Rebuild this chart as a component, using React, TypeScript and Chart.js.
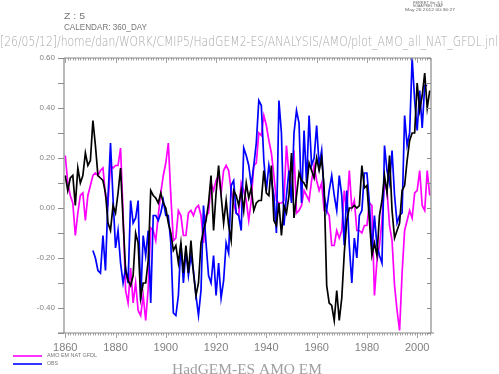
import React, { useEffect, useRef } from 'react';
import { Chart, registerables } from 'chart.js';

Chart.register(...registerables);

const START_YEAR = 1860;

// AMO EM NAT GFDL (magenta), 1860-2005
const gfdlNat: number[] = [
  0.21, 0.10, 0.05, 0.02, -0.11, -0.02, 0.05, 0.06, -0.05, 0.05,
  0.09, 0.13, 0.14, 0.13, 0.15, 0.16, 0.05, 0.02, 0.17, 0.16,
  0.17, 0.17, 0.24, -0.02, -0.33, -0.38, -0.24, -0.38, -0.30, -0.41,
  -0.43, -0.35, -0.45, -0.32, -0.08, -0.09, -0.13, -0.03, 0.06, 0.13,
  0.18, 0.26, 0.05, -0.13, -0.12, -0.01, -0.03, -0.11, -0.11, -0.02,
  -0.01, -0.03, 0.00, 0.01, -0.03, -0.14, -0.03, -0.02, 0.10, 0.07,
  0.11, 0.13, 0.06, 0.15, 0.17, 0.15, 0.07, 0.02, -0.02, -0.03,
  0.10, 0.07, 0.03, -0.05, 0.03, 0.17, 0.18, 0.30, 0.29, 0.37,
  0.33, 0.27, 0.22, 0.13, 0.03, 0.02, 0.02, 0.03, 0.25, 0.13,
  0.03, 0.23, -0.02, -0.01, 0.01, 0.07, 0.05, 0.03, 0.11, 0.17,
  0.11, 0.07, 0.10, -0.01, -0.01, -0.03, -0.15, -0.15, -0.09, -0.12,
  -0.09, 0.07, -0.01, 0.15, 0.00, 0.03, -0.09, -0.09, -0.10, -0.07,
  -0.07, 0.02, 0.01, -0.35, -0.21, -0.15, -0.05, 0.10, 0.07, -0.07,
  -0.13, -0.31, -0.41, -0.49, -0.26, -0.09, -0.05, -0.01, -0.04, 0.06,
  0.07, 0.15, 0.01, -0.01, 0.15, 0.05,
];

// OBS (blue), 1860-2005
const obs: (number | null)[] = [
  null, null, null, null, null, null, null, null, null, null,
  null, -0.17, -0.20, -0.25, -0.26, -0.11, -0.25, 0.04, 0.26, 0.04,
  -0.16, -0.09, -0.22, -0.30, -0.24, -0.30, 0.03, -0.06, -0.04, 0.03,
  -0.37, -0.11, -0.19, -0.09, -0.38, -0.03, -0.03, -0.05, -0.02, 0.03,
  -0.03, -0.03, -0.14, -0.42, -0.43, -0.35, -0.14, -0.30, -0.17, -0.27,
  -0.19, -0.25, -0.35, -0.43, -0.33, 0.01, -0.14, -0.27, -0.30, -0.19,
  -0.35, -0.22, -0.36, -0.29, -0.14, -0.18, 0.09, 0.11, -0.02, -0.03,
  -0.09, 0.24, 0.21, 0.17, 0.09, 0.17, 0.26, 0.43, 0.41, 0.19,
  0.07, 0.17, 0.11, 0.05, -0.10, 0.43, 0.30, -0.07, 0.05, 0.15,
  0.02, 0.30, 0.39, 0.34, 0.02, 0.31, 0.10, 0.37, 0.17, 0.20,
  0.33, 0.17, 0.23, 0.05, -0.01, 0.07, 0.13, 0.05, -0.01, 0.13,
  0.05, -0.15, 0.07, -0.15, -0.30, -0.12, -0.20, -0.03, -0.01, 0.14,
  0.14, 0.02, -0.17, -0.03, -0.15, -0.19, -0.22, 0.25, 0.15, 0.10,
  0.23, 0.05, -0.06, -0.03, -0.02, 0.37, 0.25, 0.30, 0.60, 0.43,
  0.31, 0.47, 0.32, 0.49, 0.49, null,
];

// HadGEM-ES EM (black), 1860-2005
const hadgemEm: number[] = [
  0.13, 0.07, 0.12, 0.13, 0.01, 0.16, 0.10, 0.13, 0.22, 0.17,
  0.19, 0.35, 0.25, 0.13, 0.12, 0.11, 0.06, -0.06, -0.09, 0.01,
  -0.02, 0.06, 0.16, -0.05, -0.25, -0.29, -0.31, -0.27, -0.10, -0.14,
  -0.36, -0.30, -0.30, -0.21, 0.07, 0.05, 0.04, 0.02, 0.06, 0.02,
  0.00, -0.06, -0.10, -0.17, -0.15, -0.22, -0.14, -0.26, -0.15, -0.26,
  -0.13, -0.26, -0.35, -0.30, -0.14, -0.09, -0.05, 0.02, 0.13, -0.09,
  0.06, 0.17, 0.05, -0.06, 0.03, -0.07, -0.13, 0.07, 0.05, 0.01,
  0.07, -0.01, 0.10, 0.04, 0.08, -0.01, 0.02, 0.03, 0.03, 0.15,
  0.06, 0.05, 0.17, -0.05, -0.07, 0.02, -0.11, 0.01, -0.02, 0.05,
  0.22, -0.04, 0.05, 0.14, 0.11, 0.10, 0.08, 0.18, 0.15, 0.12,
  0.20, 0.15, 0.20, 0.08, -0.31, -0.38, -0.39, -0.45, -0.33, -0.45,
  -0.36, -0.18, -0.05, 0.00, 0.00, 0.01, 0.00, 0.01, 0.17, 0.08,
  0.09, -0.05, -0.19, -0.14, -0.19, -0.03, 0.03, 0.13, 0.06, 0.21,
  -0.01, -0.12, -0.09, -0.06, 0.07, 0.09, 0.19, 0.27, 0.30, 0.30,
  0.50, 0.39, 0.45, 0.54, 0.40, 0.47,
];

const xTickYears = [1860, 1880, 1900, 1920, 1940, 1960, 1980, 2000];
const yTickValues = [-0.4, -0.2, 0, 0.2, 0.4, 0.6];
const X_MIN = 1859.5;
const X_MAX = 2005.5;
const Y_MIN = -0.5;
const Y_MAX = 0.6;

const legendLabels = ['AMO EM NAT GFDL', 'OBS'];
const headerLines = ['Z : 5', 'CALENDAR: 360_DAY'];
const pathLine = '[26/05/12]/home/dan/WORK/CMIP5/HadGEM2-ES/ANALYSIS/AMO/plot_AMO_all_NAT_GFDL.jnl';
const ferretLines = ['FERRET Ver. 6.1', 'NOAA/PMEL TMAP', 'May 26 2012 00:36:27'];
const titleText = 'HadGEM-ES AMO EM';

const AXIS = '#8a8a8a';
const TEXT = '#808080';

function toPoints(vals: (number | null)[]) {
  return vals.map((v, i) => ({ x: START_YEAR + i, y: v }));
}

function fitText(ctx: CanvasRenderingContext2D, text: string, x: number, y: number, width: number, font: string, color: string, align: 'left' | 'center' = 'left') {
  ctx.save();
  ctx.font = font;
  ctx.fillStyle = color;
  ctx.textBaseline = 'middle';
  ctx.textAlign = 'left';
  const w = ctx.measureText(text).width || 1;
  const left = align === 'center' ? x - width / 2 : x;
  ctx.translate(left, y);
  ctx.scale(width / w, 1);
  ctx.fillText(text, 0, 0);
  ctx.restore();
}

const ferretPlugin = {
  id: 'ferretDecor',
  afterDraw(chart: any) {
    const { ctx, chartArea: a, scales } = chart;
    const xs = scales.x;
    const ys = scales.y;
    ctx.save();
    ctx.strokeStyle = AXIS;
    ctx.lineWidth = 1.2;
    ctx.beginPath();
    ctx.moveTo(a.left, a.top);
    ctx.lineTo(a.right, a.top);
    ctx.moveTo(a.right, a.top);
    ctx.lineTo(a.right, a.bottom);
    ctx.moveTo(a.left, a.top);
    ctx.lineTo(a.left, a.bottom);
    ctx.moveTo(a.left - 6, a.bottom);
    ctx.lineTo(a.right + 3, a.bottom);
    ctx.stroke();
    ctx.lineWidth = 0.8;
    ctx.beginPath();
    for (let yr = 1860; yr <= 2005; yr++) {
      const px = Math.round(xs.getPixelForValue(yr)) + 0.5;
      const len = yr % 20 === 0 ? 5 : 2.5;
      ctx.moveTo(px, a.top);
      ctx.lineTo(px, a.top + len);
      ctx.moveTo(px, a.bottom);
      ctx.lineTo(px, a.bottom + len);
    }
    ctx.stroke();
    ctx.lineWidth = 1;
    ctx.beginPath();
    for (let k = -5; k <= 6; k++) {
      const py = Math.round(ys.getPixelForValue(k / 10)) + 0.5;
      ctx.moveTo(a.left - 6, py);
      ctx.lineTo(a.left, py);
      ctx.moveTo(a.right - 4, py);
      ctx.lineTo(a.right, py);
    }
    ctx.stroke();
    ctx.restore();

    fitText(ctx, ferretLines[0], 428, 2.5, 30, '4px "Liberation Sans"', '#666', 'center');
    fitText(ctx, ferretLines[1], 428, 6, 30, '4px "Liberation Sans"', '#666', 'center');
    fitText(ctx, ferretLines[2], 430, 9.5, 50, '4px "Liberation Sans"', '#666', 'center');
    fitText(ctx, headerLines[0], 64, 17, 21, '9px "Liberation Sans"', '#777');
    fitText(ctx, headerLines[1], 64, 28, 83, '9px "Liberation Sans"', '#777');
    fitText(ctx, pathLine, 0, 42, 498, '300 14px "DejaVu Sans"', '#a8a8a8');

    const legendColors = ['#ff00ff', '#0000ff'];
    const legendY = [356, 364];
    for (let i = 0; i < legendLabels.length; i++) {
      ctx.save();
      ctx.strokeStyle = legendColors[i];
      ctx.lineWidth = 1.6;
      ctx.beginPath();
      ctx.moveTo(13, legendY[i]);
      ctx.lineTo(42, legendY[i]);
      ctx.stroke();
      ctx.restore();
    }
    fitText(ctx, legendLabels[0], 47, 356, 50, '5px "Liberation Sans"', '#777');
    fitText(ctx, legendLabels[1], 47, 364, 11, '5px "Liberation Sans"', '#777');

    fitText(ctx, titleText, 247, 370, 150, '15px "Liberation Serif"', '#a0a0a0', 'center');
  },
};

export default function App() {
  const ref = useRef<HTMLCanvasElement>(null);
  useEffect(() => {
    if (!ref.current) return;
    const chart = new Chart(ref.current, {
      type: 'line',
      data: {
        datasets: [
          {
            label: 'HadGEM-ES EM',
            data: toPoints(hadgemEm),
            borderColor: '#000000',
            borderWidth: 1.7,
            pointRadius: 0,
            order: 0,
          },
          {
            label: legendLabels[1],
            data: toPoints(obs),
            borderColor: '#0000ff',
            borderWidth: 1.7,
            pointRadius: 0,
            spanGaps: false,
            order: 1,
          },
          {
            label: legendLabels[0],
            data: toPoints(gfdlNat),
            borderColor: '#ff00ff',
            borderWidth: 1.7,
            pointRadius: 0,
            order: 2,
          },
        ],
      },
      options: {
        animation: false,
        responsive: false,
        events: [],
        layout: { padding: { top: 58, right: 68, bottom: 0, left: 0 } },
        plugins: {
          legend: { display: false },
          tooltip: { enabled: false },
          title: { display: false },
        },
        elements: { line: { tension: 0 } },
        scales: {
          x: {
            type: 'linear',
            position: 'bottom',
            min: X_MIN,
            max: X_MAX,
            grid: { display: false, drawTicks: false },
            border: { display: false },
            afterBuildTicks: (s: any) => {
              s.ticks = xTickYears.map((v) => ({ value: v }));
            },
            afterFit: (s: any) => {
              s.height = 41;
            },
            ticks: {
              autoSkip: false,
              maxRotation: 0,
              padding: 8,
              color: TEXT,
              font: { family: 'Liberation Sans', size: 11 },
              callback: (v: any) => String(v),
            },
          },
          y: {
            type: 'linear',
            min: Y_MIN,
            max: Y_MAX,
            grid: { display: false, drawTicks: false },
            border: { display: false },
            afterBuildTicks: (s: any) => {
              s.ticks = yTickValues.map((v) => ({ value: v }));
            },
            afterFit: (s: any) => {
              s.width = 64;
            },
            ticks: {
              padding: 9,
              color: TEXT,
              font: { family: 'Liberation Sans', size: 8 },
              callback: (v: any) => Number(v).toFixed(2),
            },
          },
        },
      },
      plugins: [ferretPlugin],
    } as any);
    return () => chart.destroy();
  }, []);
  return (
    <div style={{ position: 'absolute', left: 0, top: 0, width: 499, height: 374 }}>
      <canvas ref={ref} width={499} height={374} style={{ display: 'block' }} />
    </div>
  );
}
